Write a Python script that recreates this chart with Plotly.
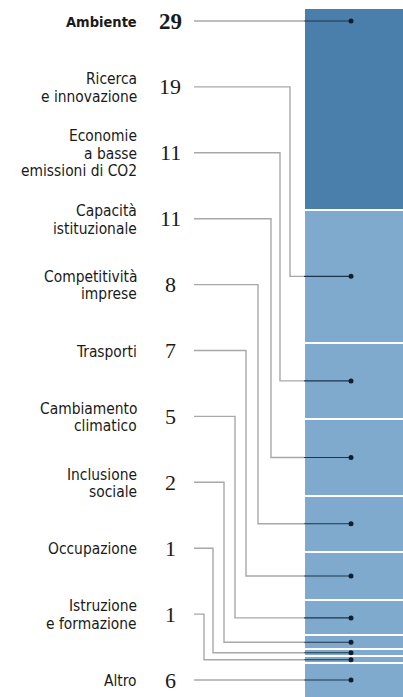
import plotly.graph_objects as go

# ---- data ----
categories = ["Ambiente", "Ricerca<br>e innovazione", "Economie<br>a basse<br>emissioni di CO2",
              "Capacità<br>istituzionale", "Competitività<br>imprese", "Trasporti",
              "Cambiamento<br>climatico", "Inclusione<br>sociale", "Occupazione",
              "Istruzione<br>e formazione", "Altro"]
values = [29, 19, 11, 11, 8, 7, 5, 2, 1, 1, 6]
value_labels = ["29", "19", "11", "11", "8", "7", "5", "2", "1", "1", "6"]

# ---- layout constants (pixels) ----
W, H = 403, 697
TOP_PX = 8.0
PX_PER_UNIT = 6.97
LABEL_Y0 = 21.0
LABEL_STEP = 65.9
LINE_H = 17.6
LABEL_X = 139
NUM_X = 170
LINE_START_X = 194
BAR_LEFT = 304
BAR_CENTER = 360
BAR_WIDTH = 112
DOT_X = 351
ELBOW_X = [None, 290, 280, 271, 258, 246, 235, 224, 213, 204, None]

DARK = "#4a7eab"
LIGHT = "#7faacd"
LINE_GRAY = "#a8a8a8"
LINE_DARK = "#1d344c"
TEXT = "#1a1a1a"
SANS = "DejaVu Sans Condensed, Liberation Sans Narrow, sans-serif"
SERIF = "Liberation Serif, DejaVu Serif, serif"

def px_to_unit(p):
    return (p - TOP_PX) / PX_PER_UNIT

fig = go.Figure()

# stacked bar segments
for i, (cat, v) in enumerate(zip(categories, values)):
    fig.add_trace(go.Bar(
        x=[BAR_CENTER], y=[v], width=BAR_WIDTH,
        marker=dict(color=DARK if i == 0 else LIGHT, line=dict(color="white", width=2.4)),
        hoverinfo="skip", showlegend=False,
    ))

# leader lines and dots
cum = 0
dot_ys = []
for i, v in enumerate(values):
    start, end = cum, cum + v
    ly = px_to_unit(LABEL_Y0 + i * LABEL_STEP)
    if start <= ly <= end:
        dy = ly
    else:
        dy = (start + end) / 2
    dot_ys.append(dy)
    ex = ELBOW_X[i]
    if ex is None:
        gx, gy = [LINE_START_X, BAR_LEFT], [ly, ly]
    else:
        gx, gy = [LINE_START_X, ex, ex, BAR_LEFT], [ly, ly, dy, dy]
    fig.add_trace(go.Scatter(x=gx, y=gy, mode="lines",
                             line=dict(color=LINE_GRAY, width=1.4),
                             hoverinfo="skip", showlegend=False))
    fig.add_trace(go.Scatter(x=[BAR_LEFT, DOT_X], y=[dy, dy], mode="lines",
                             line=dict(color=LINE_DARK, width=1.1),
                             hoverinfo="skip", showlegend=False))
    cum = end

fig.add_trace(go.Scatter(x=[DOT_X] * len(dot_ys), y=dot_ys, mode="markers",
                         marker=dict(color="#0d1f33", size=5),
                         hoverinfo="skip", showlegend=False))

# text labels (one annotation per line for tight line spacing)
for i, (cat, lab) in enumerate(zip(categories, value_labels)):
    ly_px = LABEL_Y0 + i * LABEL_STEP
    lines = cat.split("<br>")
    n = len(lines)
    for k, line in enumerate(lines):
        y_px = ly_px + (k - (n - 1) / 2) * LINE_H + 1
        if i == 0:
            txt, fsize = "<b>%s</b>" % line, 14.5
        else:
            txt, fsize = line, 15.4
        fig.add_annotation(x=LABEL_X, y=px_to_unit(y_px), text=txt, showarrow=False,
                           xanchor="right", yanchor="middle", align="right",
                           font=dict(family=SANS, size=fsize, color=TEXT))
    fig.add_annotation(x=NUM_X, y=px_to_unit(ly_px), text=("<b>%s</b>" % lab) if i == 0 else lab,
                       showarrow=False, xanchor="center", yanchor="middle",
                       font=dict(family=SERIF, size=23 if i == 0 else 22, color=TEXT))

fig.update_layout(
    width=W, height=H, margin=dict(l=0, r=0, t=0, b=0),
    paper_bgcolor="white", plot_bgcolor="white",
    barmode="stack", bargap=0,
    xaxis=dict(range=[0, W], visible=False, fixedrange=True),
    yaxis=dict(range=[px_to_unit(H), px_to_unit(0)], visible=False, fixedrange=True),
)

fig.write_html("out.html", config={"displayModeBar": False},
               post_script="document.body.style.margin='0';document.body.style.overflow='hidden';")
